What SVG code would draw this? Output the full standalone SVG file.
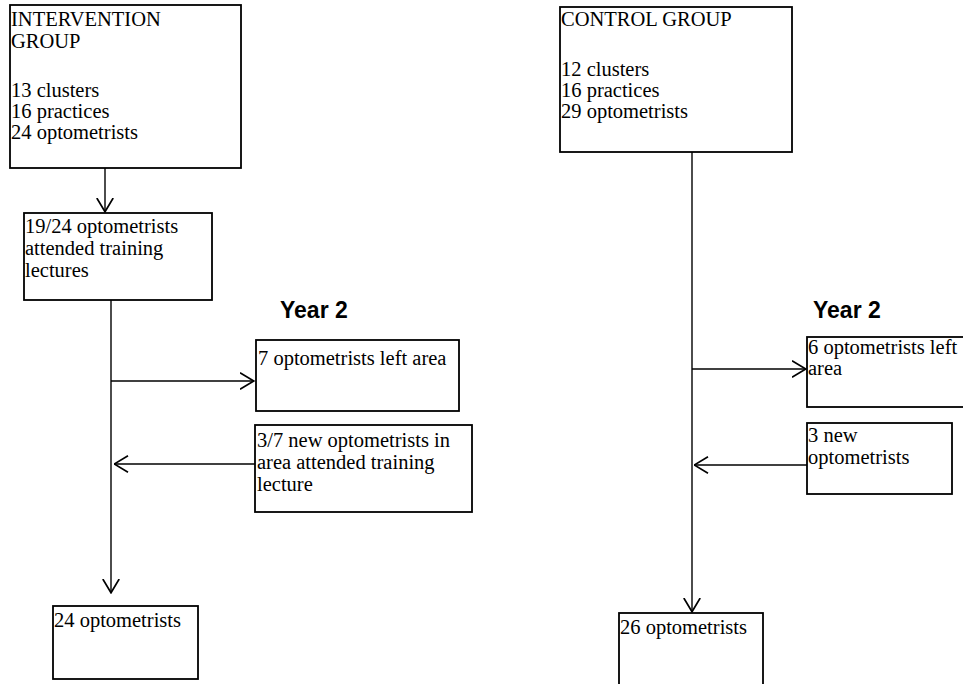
<svg xmlns="http://www.w3.org/2000/svg" width="963" height="684" viewBox="0 0 963 684">
<style>
.box{fill:#fff;stroke:#000;stroke-width:1.8}
.t{font-family:"Liberation Serif",serif;font-size:20.5px;fill:#000}
.yr{font-family:"Liberation Sans",Arial,sans-serif;font-size:23px;font-weight:bold;fill:#000}
.c{fill:none;stroke:#000;stroke-width:1.4}
</style>
<defs>
<marker id="ah" viewBox="0 0 15 18" refX="14.5" refY="9" markerWidth="15" markerHeight="18" markerUnits="userSpaceOnUse" orient="auto">
<path d="M0.5,0.8 L14.3,9 L0.5,17.2" fill="none" stroke="#000" stroke-width="1.7"/>
</marker>
</defs>
<rect width="963" height="684" fill="#fff"/>
<g id="connectors">
<line class="c" x1="105" y1="168" x2="105" y2="212" marker-end="url(#ah)"/>
<line class="c" x1="111" y1="300" x2="111" y2="593" marker-end="url(#ah)"/>
<line class="c" x1="111" y1="381" x2="254" y2="381" marker-end="url(#ah)"/>
<line class="c" x1="255" y1="464" x2="114" y2="464" marker-end="url(#ah)"/>
<line class="c" x1="692" y1="152" x2="692" y2="612" marker-end="url(#ah)"/>
<line class="c" x1="692" y1="369" x2="806" y2="369" marker-end="url(#ah)"/>
<line class="c" x1="807" y1="465" x2="694" y2="465" marker-end="url(#ah)"/>
</g>
<g id="intervention">
<rect class="box" x="10" y="5" width="231" height="163"/>
<text class="t" x="11" y="26">INTERVENTION</text>
<text class="t" x="11" y="48">GROUP</text>
<text class="t" x="11" y="97">13 clusters</text>
<text class="t" x="11" y="118">16 practices</text>
<text class="t" x="11" y="139">24 optometrists</text>
</g>
<g id="training">
<rect class="box" x="24" y="213" width="188" height="87"/>
<text class="t" x="25" y="233">19/24 optometrists</text>
<text class="t" x="25" y="255">attended training</text>
<text class="t" x="25" y="277">lectures</text>
</g>
<g id="year2-left">
<text class="yr" x="280" y="318">Year 2</text>
</g>
<g id="left7">
<rect class="box" x="256" y="340" width="203" height="71"/>
<text class="t" x="258" y="365">7 optometrists left area</text>
</g>
<g id="new37">
<rect class="box" x="255" y="425" width="217" height="87"/>
<text class="t" x="257" y="447">3/7 new optometrists in</text>
<text class="t" x="257" y="469">area attended training</text>
<text class="t" x="257" y="491">lecture</text>
</g>
<g id="final24">
<rect class="box" x="53" y="606" width="145" height="73"/>
<text class="t" x="54" y="627">24 optometrists</text>
</g>
<g id="control">
<rect class="box" x="560" y="7" width="232" height="145"/>
<text class="t" x="561" y="26">CONTROL GROUP</text>
<text class="t" x="561" y="76">12 clusters</text>
<text class="t" x="561" y="97">16 practices</text>
<text class="t" x="561" y="118">29 optometrists</text>
</g>
<g id="year2-right">
<text class="yr" x="813" y="318">Year 2</text>
</g>
<g id="left6">
<rect class="box" x="807" y="337" width="160" height="70"/>
<text class="t" x="808" y="354">6 optometrists left</text>
<text class="t" x="808" y="375">area</text>
</g>
<g id="new3">
<rect class="box" x="807" y="423" width="145" height="71"/>
<text class="t" x="808" y="442">3 new</text>
<text class="t" x="808" y="464">optometrists</text>
</g>
<g id="final26">
<rect class="box" x="619" y="613" width="144" height="80"/>
<text class="t" x="620" y="634">26 optometrists</text>
</g>
</svg>
